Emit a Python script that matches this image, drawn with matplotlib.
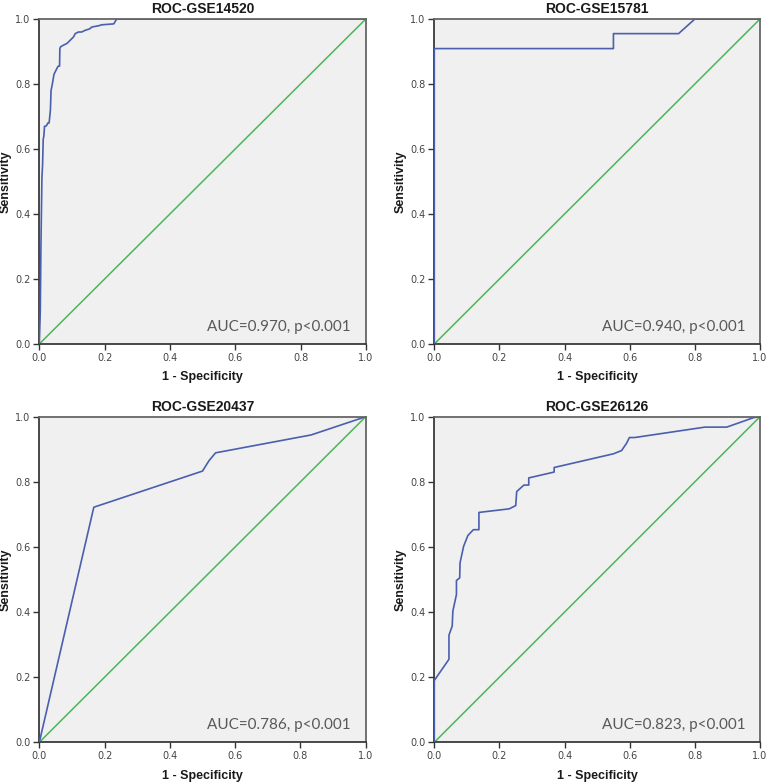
import matplotlib
matplotlib.use('Agg')
import numpy as np
from matplotlib import pyplot as plt

titles = ['ROC-GSE14520', 'ROC-GSE15781', 'ROC-GSE20437', 'ROC-GSE26126']
auc_labels = ['AUC=0.970, p<0.001', 'AUC=0.940, p<0.001',
              'AUC=0.786, p<0.001', 'AUC=0.823, p<0.001']

# ROC curve vertices (1 - specificity, sensitivity)
fpr_14520 = [0, 0.003, 0.005, 0.008, 0.010, 0.012, 0.014, 0.016, 0.020, 0.024, 0.026,
             0.030, 0.033, 0.034, 0.036, 0.038, 0.040, 0.045, 0.050, 0.055, 0.058,
             0.062, 0.063, 0.066, 0.075, 0.085, 0.090, 0.095, 0.100, 0.105, 0.110,
             0.120, 0.130, 0.140, 0.155, 0.160, 0.185, 0.190, 0.228, 0.237, 0.47, 1.0]
tpr_14520 = [0, 0.10, 0.30, 0.51, 0.55, 0.63, 0.64, 0.67, 0.67, 0.675, 0.68,
             0.68, 0.71, 0.72, 0.78, 0.79, 0.80, 0.83, 0.84, 0.85, 0.855,
             0.855, 0.91, 0.915, 0.92, 0.925, 0.93, 0.935, 0.94, 0.945, 0.955,
             0.96, 0.96, 0.965, 0.97, 0.975, 0.98, 0.982, 0.985, 1.0, 1.0, 1.0]

fpr_15781 = [0, 0, 0.55, 0.55, 0.75, 0.80, 1.0]
tpr_15781 = [0, 0.909, 0.909, 0.955, 0.955, 1.0, 1.0]

fpr_20437 = [0, 0.167, 0.50, 0.52, 0.54, 0.833, 1.0]
tpr_20437 = [0, 0.722, 0.833, 0.865, 0.889, 0.944, 1.0]

fpr_26126 = [0, 0, 0.045, 0.045, 0.055, 0.057, 0.068, 0.068, 0.078, 0.079, 0.090,
             0.103, 0.120, 0.137, 0.137, 0.230, 0.250, 0.253, 0.275, 0.290, 0.290,
             0.368, 0.368, 0.550, 0.575, 0.590, 0.599, 0.615, 0.831, 0.898, 0.980, 1.0]
tpr_26126 = [0, 0.19, 0.255, 0.329, 0.357, 0.403, 0.454, 0.497, 0.505, 0.551, 0.602,
             0.635, 0.653, 0.653, 0.706, 0.717, 0.727, 0.770, 0.790, 0.790, 0.812,
             0.830, 0.844, 0.886, 0.896, 0.918, 0.936, 0.936, 0.968, 0.968, 0.997, 1.0]

curves = [(fpr_14520, tpr_14520), (fpr_15781, tpr_15781),
          (fpr_20437, tpr_20437), (fpr_26126, tpr_26126)]
ticks = [0.0, 0.2, 0.4, 0.6, 0.8, 1.0]

fig = plt.figure(figsize=(7.7, 7.83), dpi=100)
fig.patch.set_facecolor('white')

W, H = 770., 783.
# axes boxes in pixels: left, top, right, bottom
boxes = [(39.3, 19, 365.8, 344), (434.3, 19, 760, 344),
         (39.3, 416.7, 365.7, 742.3), (434.3, 416.7, 760, 742.3)]

for (l, t, r, b), title, auc, (fx, ty) in zip(boxes, titles, auc_labels, curves):
    ax = fig.add_axes([l / W, (H - b) / H, (r - l) / W, (b - t) / H])
    ax.set_facecolor('#f0f0f0')
    ax.plot([0, 1], [0, 1], color='#4cb55a', lw=1.1, zorder=2)
    ax.plot(fx, ty, color='#4a5fae', lw=1.2, zorder=3)
    ax.set_xlim(0, 1)
    ax.set_ylim(0, 1)
    ax.set_xticks(ticks)
    ax.set_yticks(ticks)
    ax.set_xticklabels(['%.1f' % v for v in ticks])
    ax.set_yticklabels(['%.1f' % v for v in ticks])
    ax.tick_params(direction='out', length=4, width=1, colors='#333333',
                   labelsize=7, labelcolor='#444444', pad=2.5)
    for s in ax.spines.values():
        s.set_color('#3a3a3a')
        s.set_linewidth(1.3)
    ax.spines['top'].set_color('#666666')
    ax.spines['right'].set_color('#666666')
    ax.set_title(title, fontsize=10, fontweight='bold', family='Liberation Sans',
                 pad=4, color='#1a1a1a')
    ax.set_xlabel('1 - Specificity', fontsize=9, fontweight='bold',
                  family='Liberation Sans', labelpad=6, color='#1a1a1a')
    ax.set_ylabel('Sensitivity', fontsize=9, fontweight='bold',
                  family='Liberation Sans', labelpad=2, color='#1a1a1a')
    ax.text(0.955, 0.04, auc, ha='right', va='baseline', fontsize=11,
            family='Lato', color='#595959', zorder=4)

fig.savefig('out.png', dpi=100)
